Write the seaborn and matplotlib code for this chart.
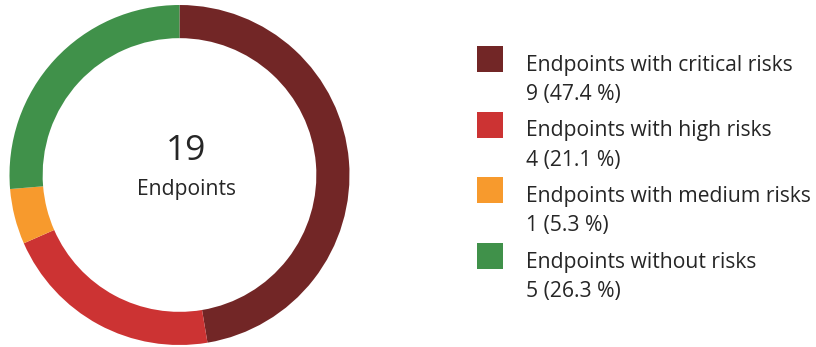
import matplotlib
matplotlib.use("Agg")
import matplotlib.pyplot as plt
import seaborn as sns
from matplotlib.patches import Rectangle

categories = ["Endpoints with critical risks", "Endpoints with high risks",
              "Endpoints with medium risks", "Endpoints without risks"]
counts = [9, 4, 1, 5]
percent_labels = ["47.4 %", "21.1 %", "5.3 %", "26.3 %"]
colors = ["#722626", "#cc3333", "#f79a2d", "#40914a"]
center_total = "19"
center_label = "Endpoints"

sns.set_theme(style="white")
plt.rcParams["font.family"] = ["Open Sans", "DejaVu Sans"]
TEXT = "#262626"

W, H = 816, 347
fig = plt.figure(figsize=(W / 100, H / 100), dpi=100)

cx, cy, R = 179.5, 175, 170
ax = fig.add_axes([(cx - R) / W, (H - cy - R) / H, 2 * R / W, 2 * R / H])
ax.pie(counts, colors=colors, startangle=90, counterclock=False,
       radius=1.0, wedgeprops=dict(width=0.195, linewidth=0))
ax.set_xlim(-1, 1)
ax.set_ylim(-1, 1)
ax.set_aspect("equal")
ax.axis("off")

tx = (186.5 - cx) / R
ax.text(tx, (cy - 160.5) / R, center_total, ha="center", va="baseline",
        fontsize=25.5, color=TEXT)
ax.text(tx, (cy - 195) / R, center_label, ha="center", va="baseline",
        fontsize=15.2, color=TEXT)

# legend
row_gap = 65.7
for i, (cat, n, pct, col) in enumerate(zip(categories, counts, percent_labels, colors)):
    top = 46 + i * row_gap
    fig.patches.append(Rectangle((477 / W, 1 - (top + 26) / H), 25.5 / W, 26 / H,
                                 transform=fig.transFigure, facecolor=col,
                                 edgecolor="none"))
    fig.text(526 / W, 1 - (top + 24.5) / H, cat, ha="left", va="baseline",
             fontsize=15.2, color=TEXT)
    fig.text(526 / W, 1 - (top + 54) / H, f"{n} ({pct})", ha="left",
             va="baseline", fontsize=15.2, color=TEXT)

fig.savefig("out.png", dpi=100, facecolor="white")
